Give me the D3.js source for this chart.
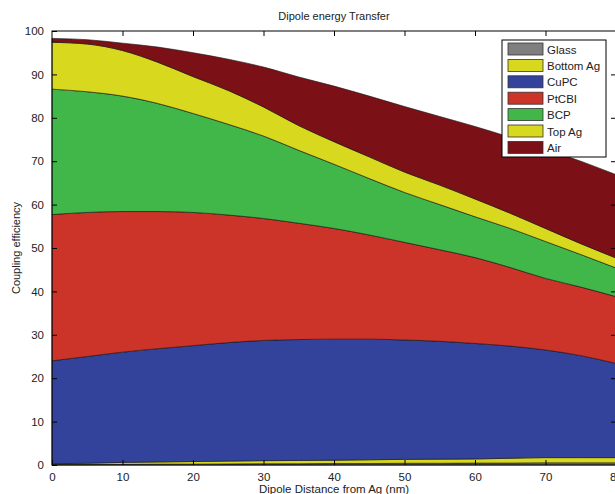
<!DOCTYPE html>
<html>
<head>
<meta charset="utf-8">
<script src="https://cdn.jsdelivr.net/npm/d3@7"></script>
<style>
  body { margin: 0; background: #fff; }
  text { font-family: "Liberation Sans", Arial, sans-serif; }
</style>
</head>
<body>
<div class="canva"></div>
<script>
// distances (nm)
const distance = [0, 5, 10, 15, 20, 25, 30, 35, 40, 45, 50, 55, 60, 65, 70, 75, 80];

// coupling efficiency per layer (%)
const glass    = [0.1, 0.1, 0.15, 0.2, 0.2, 0.25, 0.3, 0.3, 0.35, 0.35, 0.4, 0.4, 0.45, 0.45, 0.5, 0.5, 0.5];
const bottomAg = [0.2, 0.3, 0.45, 0.5, 0.6, 0.65, 0.7, 0.75, 0.75, 0.85, 0.9, 0.95, 0.95, 1.1, 1.2, 1.2, 1.2];
const cupc     = [23.7, 24.6, 25.4, 26.1, 26.7, 27.3, 27.7, 27.85, 27.9, 27.8, 27.5, 27.15, 26.6, 25.85, 24.8, 23.5, 21.7];
const ptcbi    = [33.7, 33.2, 32.4, 31.6, 30.7, 29.4, 28.1, 26.8, 25.5, 24, 22.5, 21.1, 19.8, 18.1, 16.5, 15.8, 15.4];
const bcp      = [28.9, 27.8, 26.6, 24.9, 22.8, 20.9, 19, 16.8, 14.8, 13, 11.5, 10.4, 9.4, 9, 8.5, 7.5, 6.6];
const topAg    = [10.8, 11, 10.5, 9.5, 8.5, 7.8, 6.7, 5.7, 5.2, 5, 4.7, 4.5, 4.1, 3.5, 3, 2.5, 2.3];
const air      = [0.9, 1, 1.7, 3.5, 5.5, 7.2, 9.2, 11.2, 12.8, 14, 15.1, 15.8, 16.7, 17.5, 18.3, 19, 19.2];

const layers = ["Glass", "Bottom Ag", "CuPC", "PtCBI", "BCP", "Top Ag", "Air"];
const series = [glass, bottomAg, cupc, ptcbi, bcp, topAg, air];
const colors = ["#7f7f7f", "#d8d81f", "#33439b", "#cc3329", "#41b74a", "#d8d81f", "#7b1016"];

const xTicks = [0, 10, 20, 30, 40, 50, 60, 70, 80];
const yTicks = [0, 10, 20, 30, 40, 50, 60, 70, 80, 90, 100];

const rows = distance.map((d, i) => {
  const r = { d: d };
  layers.forEach((k, j) => { r[k] = series[j][i]; });
  return r;
});

const W = 615, H = 494;
const pLeft = 52, pRight = 616, pTop = 31, pBottom = 465;

const svg = d3.select(".canva").append("svg").attr("width", W).attr("height", H);

const x = d3.scaleLinear().domain([0, 80]).range([pLeft, pRight]);
const y = d3.scaleLinear().domain([0, 100]).range([pBottom, pTop]);

const stacked = d3.stack().keys(layers)(rows);

const area = d3.area()
  .x(d => x(d.data.d))
  .y0(d => y(d[0]))
  .y1(d => y(d[1]))
  .curve(d3.curveMonotoneX);

svg.append("g")
  .selectAll("path")
  .data(stacked)
  .join("path")
  .attr("d", area)
  .attr("fill", (d, i) => colors[i])
  .attr("stroke", "#111")
  .attr("stroke-width", 0.6);

// axes: box with inward ticks like MATLAB
const axisColor = "#000";
const bx = svg.append("g");

bx.append("g")
  .attr("transform", `translate(0,${pBottom})`)
  .call(d3.axisBottom(x).tickValues(xTicks).tickSizeInner(-5).tickSizeOuter(0).tickPadding(8))
  .call(g => g.select(".domain").remove());

bx.append("g")
  .attr("transform", `translate(0,${pTop})`)
  .call(d3.axisTop(x).tickValues(xTicks.slice(1, -1)).tickSizeInner(-5).tickSizeOuter(0).tickFormat(""))
  .call(g => g.select(".domain").remove());

bx.append("g")
  .attr("transform", `translate(${pLeft},0)`)
  .call(d3.axisLeft(y).tickValues(yTicks).tickSizeInner(-5).tickSizeOuter(0).tickPadding(8))
  .call(g => g.select(".domain").remove());

bx.append("g")
  .attr("transform", `translate(${pRight},0)`)
  .call(d3.axisRight(y).tickValues(yTicks.slice(1, -1)).tickSizeInner(-5).tickSizeOuter(0).tickFormat(""))
  .call(g => g.select(".domain").remove());

bx.selectAll("text")
  .attr("font-size", 11.5)
  .attr("fill", "#222")
  .style("font-family", "'Liberation Sans', Arial, sans-serif");
bx.selectAll(".tick line").attr("stroke", axisColor);

svg.append("rect")
  .attr("x", pLeft).attr("y", pTop)
  .attr("width", pRight - pLeft).attr("height", pBottom - pTop)
  .attr("fill", "none").attr("stroke", axisColor).attr("stroke-width", 1);

// titles
svg.append("text")
  .text("Dipole energy Transfer")
  .attr("x", 334).attr("y", 20)
  .attr("text-anchor", "middle")
  .attr("font-size", 11).attr("fill", "#222");

svg.append("text")
  .text("Dipole Distance from Ag (nm)")
  .attr("x", 334).attr("y", 493)
  .attr("text-anchor", "middle")
  .attr("font-size", 11.5).attr("fill", "#222");

svg.append("text")
  .text("Coupling efficiency")
  .attr("transform", "translate(20,248) rotate(-90)")
  .attr("text-anchor", "middle")
  .attr("font-size", 11).attr("fill", "#222");

// legend
const lg = svg.append("g").attr("transform", "translate(502,40)");
lg.append("rect")
  .attr("width", 104).attr("height", 117)
  .attr("fill", "#fff").attr("stroke", "#000").attr("stroke-width", 1);

const item = lg.selectAll("g.item")
  .data(layers)
  .join("g")
  .attr("class", "item")
  .attr("transform", (d, i) => `translate(6,${3 + i * 16.4})`);

item.append("rect")
  .attr("width", 35).attr("height", 12)
  .attr("fill", (d, i) => colors[i])
  .attr("stroke", "#333").attr("stroke-width", 0.8);

item.append("text")
  .text(d => d)
  .attr("x", 39).attr("y", 10.5)
  .attr("font-size", 11.5).attr("fill", "#222");
</script>
</body>
</html>
